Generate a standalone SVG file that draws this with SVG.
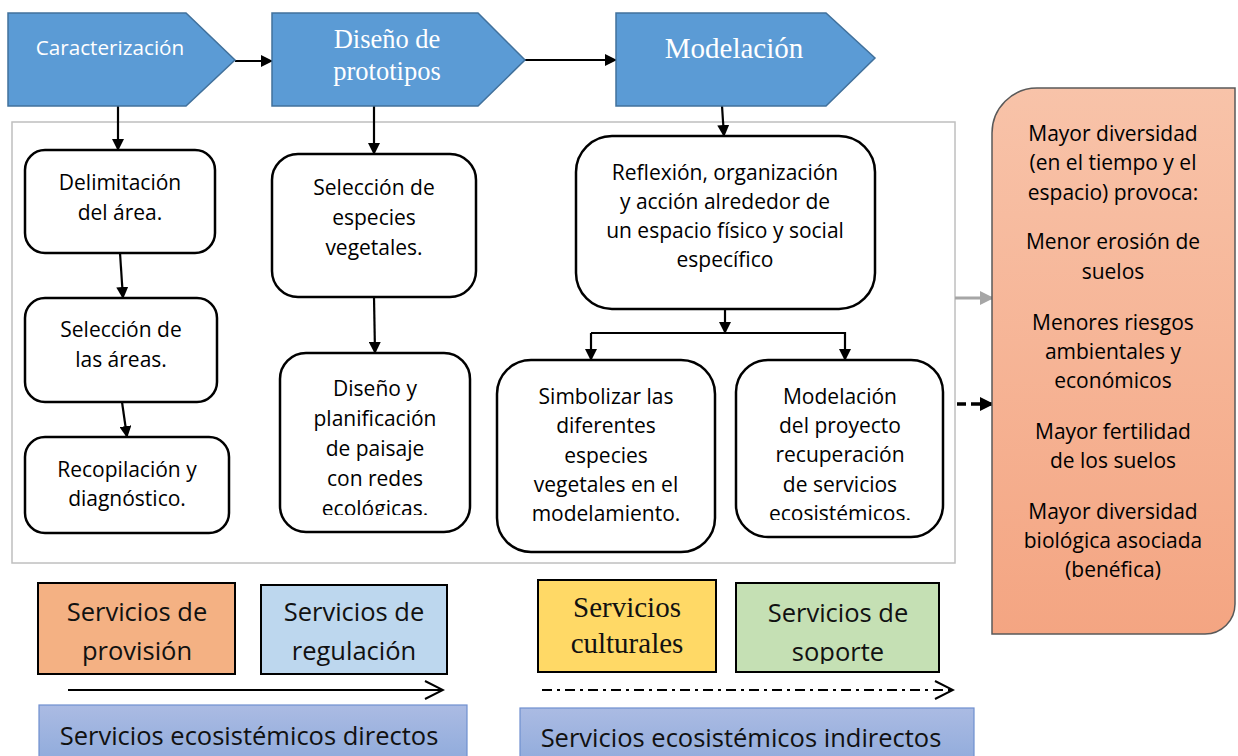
<svg xmlns="http://www.w3.org/2000/svg" width="1238" height="756" viewBox="0 0 1238 756">
<style>
.chev{fill:#5b9bd5;stroke:#41719c;stroke-width:1.5}
.ct{fill:#fff;text-anchor:middle;font-family:"Liberation Serif","Times New Roman",serif}
.cs{fill:#fff;text-anchor:middle;font-family:"Open Sans","Noto Sans",sans-serif;font-size:20.7px}
.box{fill:#fff;stroke:#000;stroke-width:2.5}
.t{font-family:"Open Sans","Noto Sans",sans-serif;font-size:21px;fill:#000;text-anchor:middle}
.bt{font-family:"Open Sans","Noto Sans",sans-serif;font-size:25.5px;fill:#111;text-anchor:middle}
.bs{font-family:"Liberation Serif","Times New Roman",serif;font-size:29px;fill:#111;text-anchor:middle}
.line{stroke:#000;stroke-width:2.2;fill:none}
</style>
<defs>
<marker id="ah" markerWidth="12" markerHeight="12" refX="11" refY="6" orient="auto" markerUnits="userSpaceOnUse" viewBox="0 0 12 12"><path d="M0,0 L12,6 L0,12 Z" fill="#000"/></marker>
<marker id="ahb" markerWidth="14" markerHeight="14" refX="13" refY="7" orient="auto" markerUnits="userSpaceOnUse" viewBox="0 0 14 14"><path d="M0,0 L14,7 L0,14 Z" fill="#000"/></marker>
<marker id="ahg" markerWidth="14" markerHeight="14" refX="13" refY="7" orient="auto" markerUnits="userSpaceOnUse" viewBox="0 0 14 14"><path d="M0,0 L14,7 L0,14 Z" fill="#a6a6a6"/></marker>
<marker id="open" markerWidth="22" markerHeight="22" refX="20" refY="11" orient="auto" markerUnits="userSpaceOnUse" viewBox="0 0 22 22"><path d="M2,2 L20,11 L2,20" fill="none" stroke="#000" stroke-width="2"/></marker>
<linearGradient id="salmon" x1="0" y1="0" x2="0" y2="1"><stop offset="0" stop-color="#f8c3a9"/><stop offset="1" stop-color="#f4a582"/></linearGradient>
<linearGradient id="blue" x1="0" y1="0" x2="0" y2="1"><stop offset="0" stop-color="#abbbe3"/><stop offset="1" stop-color="#8eaadb"/></linearGradient>
<clipPath id="c1"><rect x="280" y="353" width="190" height="162"/></clipPath>
<clipPath id="c2"><rect x="736" y="360" width="207" height="160"/></clipPath>
<clipPath id="c3"><rect x="736" y="583" width="203" height="81"/></clipPath>
</defs>

<rect id="frame" x="12" y="122" width="943" height="441" fill="#fff" stroke="#bfbfbf" stroke-width="1.5"/>

<g id="connectors">
<line class="line" x1="118" y1="88" x2="118" y2="150" marker-end="url(#ah)"/>
<line class="line" x1="374" y1="106" x2="374" y2="154" marker-end="url(#ah)"/>
<line class="line" x1="722" y1="106" x2="724" y2="136" marker-end="url(#ah)"/>
<line class="line" x1="235" y1="61" x2="272" y2="61" marker-end="url(#ah)"/>
<line class="line" x1="525" y1="60" x2="616" y2="60" marker-end="url(#ah)"/>
<line class="line" x1="120" y1="253" x2="123" y2="298" marker-end="url(#ah)"/>
<line class="line" x1="122" y1="402" x2="127" y2="437" marker-end="url(#ah)"/>
<line class="line" x1="374" y1="297" x2="375" y2="353" marker-end="url(#ah)"/>
<line class="line" x1="725" y1="309" x2="725" y2="333" marker-end="url(#ah)"/>
<polyline class="line" points="591,333 845,333 845,360" marker-end="url(#ah)"/>
<line class="line" x1="591" y1="333" x2="591" y2="360" marker-end="url(#ah)"/>
<line x1="955" y1="298" x2="993" y2="298" stroke="#a6a6a6" stroke-width="3" marker-end="url(#ahg)"/>
<line x1="957" y1="404" x2="993" y2="404" stroke="#000" stroke-width="3.5" stroke-dasharray="9,5" marker-end="url(#ahb)"/>
<line x1="68" y1="690" x2="443" y2="690" stroke="#000" stroke-width="2" marker-end="url(#open)"/>
<line x1="542" y1="690" x2="953" y2="690" stroke="#000" stroke-width="2" stroke-dasharray="10,5,3,5" marker-end="url(#open)"/>
</g>

<g id="caracterizacion">
<path class="chev" d="M8,13 H186 L235,60 L186,106 H8 Z"/>
<text class="cs" x="110" y="55">Caracterización</text>
</g>
<g id="diseno">
<path class="chev" d="M272,13 H478 L525,60 L478,106 H272 Z"/>
<text class="ct" x="387" y="48" font-size="26.5">Diseño de</text>
<text class="ct" x="387" y="80" font-size="26.5">prototipos</text>
</g>
<g id="modelacion">
<path class="chev" d="M616,13 H826 L875,58 L826,106 H616 Z"/>
<text class="ct" x="734" y="58" font-size="29">Modelación</text>
</g>

<g id="delimitacion">
<rect class="box" x="25" y="150" width="190" height="103" rx="20"/>
<text class="t" x="120" y="190">Delimitación</text>
<text class="t" x="120" y="220">del área.</text>
</g>
<g id="seleccion-areas">
<rect class="box" x="25" y="298" width="192" height="104" rx="20"/>
<text class="t" x="121" y="337">Selección de</text>
<text class="t" x="121" y="367">las áreas.</text>
</g>
<g id="recopilacion">
<rect class="box" x="25" y="437" width="204" height="96" rx="20"/>
<text class="t" x="127" y="477">Recopilación y</text>
<text class="t" x="127" y="506">diagnóstico.</text>
</g>
<g id="seleccion-especies">
<rect class="box" x="272" y="154" width="204" height="143" rx="26"/>
<text class="t" x="374" y="195">Selección de</text>
<text class="t" x="374" y="225">especies</text>
<text class="t" x="374" y="255">vegetales.</text>
</g>
<g id="planificacion">
<rect class="box" x="280" y="353" width="190" height="179" rx="26"/>
<g clip-path="url(#c1)">
<text class="t" x="375" y="396">Diseño y</text>
<text class="t" x="375" y="426">planificación</text>
<text class="t" x="375" y="456">de paisaje</text>
<text class="t" x="375" y="486">con redes</text>
<text class="t" x="375" y="516">ecológicas.</text>
</g>
</g>
<g id="reflexion">
<rect class="box" x="576" y="136" width="299" height="173" rx="36"/>
<text class="t" x="725" y="180">Reflexión, organización</text>
<text class="t" x="725" y="209">y acción alrededor de</text>
<text class="t" x="725" y="238">un espacio físico y social</text>
<text class="t" x="725" y="267">específico</text>
</g>
<g id="simbolizar">
<rect class="box" x="497" y="360" width="218" height="192" rx="34"/>
<text class="t" x="606" y="404">Simbolizar las</text>
<text class="t" x="606" y="433">diferentes</text>
<text class="t" x="606" y="463">especies</text>
<text class="t" x="606" y="492">vegetales en el</text>
<text class="t" x="606" y="521">modelamiento.</text>
</g>
<g id="modelacion-proyecto">
<rect class="box" x="736" y="360" width="207" height="177" rx="32"/>
<g clip-path="url(#c2)">
<text class="t" x="840" y="404">Modelación</text>
<text class="t" x="840" y="433">del proyecto</text>
<text class="t" x="840" y="462">recuperación</text>
<text class="t" x="840" y="492">de servicios</text>
<text class="t" x="840" y="521">ecosistémicos.</text>
</g>
</g>

<g id="beneficios">
<path d="M992,133 A45,45 0 0 1 1037,88 H1235 V604 A30,30 0 0 1 1205,634 H992 Z" fill="url(#salmon)" stroke="#595959" stroke-width="1.5"/>
<text class="t" x="1113" y="141">Mayor diversidad</text>
<text class="t" x="1113" y="170">(en el tiempo y el</text>
<text class="t" x="1113" y="200">espacio) provoca:</text>
<text class="t" x="1113" y="249">Menor erosión de</text>
<text class="t" x="1113" y="279">suelos</text>
<text class="t" x="1113" y="330">Menores riesgos</text>
<text class="t" x="1113" y="359">ambientales y</text>
<text class="t" x="1113" y="388">económicos</text>
<text class="t" x="1113" y="439">Mayor fertilidad</text>
<text class="t" x="1113" y="468">de los suelos</text>
<text class="t" x="1113" y="519">Mayor diversidad</text>
<text class="t" x="1113" y="548">biológica asociada</text>
<text class="t" x="1113" y="577">(benéfica)</text>
</g>

<g id="provision">
<rect x="38" y="583" width="197" height="91" fill="#f4b183" stroke="#000" stroke-width="2"/>
<text class="bt" x="137" y="621">Servicios de</text>
<text class="bt" x="137" y="660">provisión</text>
</g>
<g id="regulacion">
<rect x="261" y="585" width="186" height="89" fill="#bdd7ee" stroke="#000" stroke-width="2"/>
<text class="bt" x="354" y="621">Servicios de</text>
<text class="bt" x="354" y="660">regulación</text>
</g>
<g id="culturales">
<rect x="538" y="580" width="178" height="92" fill="#ffd966" stroke="#000" stroke-width="2"/>
<text class="bs" x="627" y="617">Servicios</text>
<text class="bs" x="627" y="653">culturales</text>
</g>
<g id="soporte">
<rect x="736" y="583" width="203" height="89" fill="#c5e0b4" stroke="#000" stroke-width="2"/>
<g clip-path="url(#c3)">
<text class="bt" x="838" y="622">Servicios de</text>
<text class="bt" x="838" y="661">soporte</text>
</g>
</g>
<g id="directos">
<rect x="39" y="705" width="428" height="60" fill="url(#blue)" stroke="#6f8fcf" stroke-width="1.2"/>
<text class="bt" x="249" y="745">Servicios ecosistémicos directos</text>
</g>
<g id="indirectos">
<rect x="520" y="708" width="454" height="60" fill="url(#blue)" stroke="#6f8fcf" stroke-width="1.2"/>
<text class="bt" x="741" y="747">Servicios ecosistémicos indirectos</text>
</g>
</svg>
